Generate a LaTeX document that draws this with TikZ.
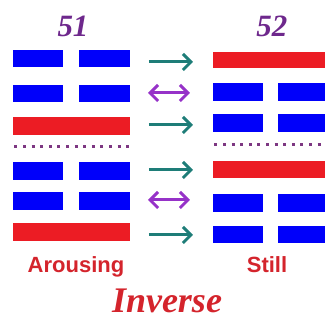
\documentclass[tikz,border=0pt]{standalone}
\usepackage{fontspec}
\setmainfont{Liberation Serif}
\setsansfont{Liberation Sans}
\usetikzlibrary{arrows.meta}
\definecolor{yinblue}{RGB}{0,0,250}
\definecolor{yangred}{RGB}{236,28,36}
\definecolor{arrteal}{RGB}{30,125,120}
\definecolor{arrviolet}{RGB}{150,50,200}
\definecolor{dotpurple}{RGB}{125,55,130}
\definecolor{numpurple}{RGB}{110,40,140}
\definecolor{namered}{RGB}{212,36,44}

\begin{document}
\begin{tikzpicture}[x=1pt,y=1pt]
    \tikzstyle{every node}+=[inner sep=0pt]
    \tikzstyle{yin}=[fill=yinblue]
    \tikzstyle{yang}=[fill=yangred]
    \tikzstyle{dotline}=[dotpurple, line width=3pt, dash pattern=on 3pt off 5.6pt]
    \tikzstyle{flip}=[arrteal, line width=3pt, -{Straight Barb[length=8pt,width=16pt]}]
    \tikzstyle{stay}=[arrviolet, line width=3pt, {Straight Barb[length=8pt,width=16pt]}-{Straight Barb[length=8pt,width=16pt]}]
    \tikzstyle{hexnum}=[text=numpurple, font=\bfseries\itshape\fontsize{31}{31}\selectfont, anchor=base]
    \tikzstyle{hexname}=[text=namered, font=\sffamily\bfseries\fontsize{22}{22}\selectfont, anchor=base]
    \useasboundingbox (0,0) rectangle (325,-320);
    % 51, Arousing
    \node [hexnum] (n51) at (73,-37) {51};
    \fill [yin] (13,-50) rectangle (63,-67);
    \fill [yin] (79,-50) rectangle (130,-67);
    \fill [yin] (13,-85) rectangle (63,-102);
    \fill [yin] (79,-85) rectangle (130,-102);
    \fill [yang] (13,-117) rectangle (130,-135);
    \draw [dotline] (14.5,-147) -- (130,-147);
    \fill [yin] (13,-162) rectangle (63,-180);
    \fill [yin] (79,-162) rectangle (130,-180);
    \fill [yin] (13,-192) rectangle (63,-210);
    \fill [yin] (79,-192) rectangle (130,-210);
    \fill [yang] (13,-223) rectangle (130,-241);
    \node [hexname] (arousing) at (76,-273) {Arousing};
    % 52, Still
    \node [hexnum] (n52) at (272,-37) {52};
    \fill [yang] (213,-52) rectangle (325,-68);
    \fill [yin] (213,-83) rectangle (263,-101);
    \fill [yin] (278,-83) rectangle (325,-101);
    \fill [yin] (213,-114) rectangle (263,-132);
    \fill [yin] (278,-114) rectangle (325,-132);
    \draw [dotline] (214.5,-145) -- (325,-145);
    \fill [yang] (213,-161) rectangle (325,-178);
    \fill [yin] (213,-194) rectangle (263,-212);
    \fill [yin] (278,-194) rectangle (325,-212);
    \fill [yin] (213,-226) rectangle (263,-243);
    \fill [yin] (278,-226) rectangle (325,-243);
    \node [hexname] (still) at (267,-273) {Still};
    % line by line
    \coordinate (a1) at (149,-62);  \coordinate (b1) at (193,-62);
    \coordinate (a2) at (148,-93);  \coordinate (b2) at (190,-93);
    \coordinate (a3) at (149,-125); \coordinate (b3) at (193,-125);
    \coordinate (a4) at (149,-170); \coordinate (b4) at (193,-170);
    \coordinate (a5) at (148,-200); \coordinate (b5) at (190,-200);
    \coordinate (a6) at (149,-235); \coordinate (b6) at (193,-235);
    \draw [flip] (a1) -- (b1);
    \draw [stay] (a2) -- (b2);
    \draw [flip] (a3) -- (b3);
    \draw [flip] (a4) -- (b4);
    \draw [stay] (a5) -- (b5);
    \draw [flip] (a6) -- (b6);
    \node [text=namered, font=\bfseries\itshape\fontsize{36}{36}\selectfont, anchor=base] (inverse) at (167,-313) {Inverse};
\end{tikzpicture}
\end{document}
